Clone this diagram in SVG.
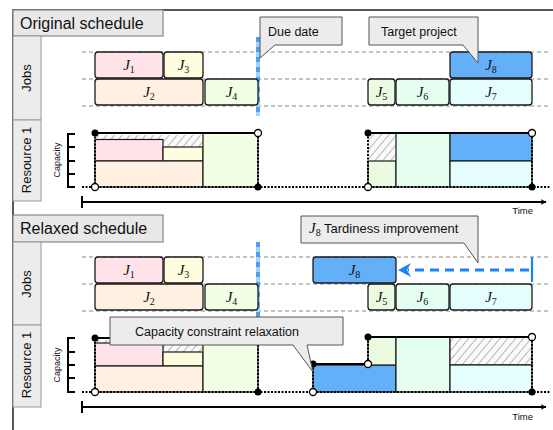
<svg xmlns="http://www.w3.org/2000/svg" width="553" height="430" viewBox="0 0 553 430">
<style>
.frame{fill:none;stroke:#222;stroke-width:1.5}
.hdr{fill:#e8e8e8;stroke:#888;stroke-width:1.2}
.lbl{fill:#ececec;stroke:#999;stroke-width:1}
.sans{font-family:"Liberation Sans",Arial,sans-serif;fill:#111}
.grid{stroke:#888;stroke-width:1;stroke-dasharray:4 3}
.job{stroke:#1a1a1a;stroke-width:1.3}
.blk{stroke:#1a1a1a;stroke-width:1.2}
.jt{font-family:"Liberation Serif","Times New Roman",serif;font-style:italic;font-size:15px;fill:#111;text-anchor:middle}
.sub{font-style:normal;font-size:10px}
.c1{fill:#ffe3e8}.c2{fill:#fff0e2}.c3{fill:#fffde0}.c4{fill:#f2ffe4}
.c5{fill:#ebfbe1}.c6{fill:#e4fff0}.c7{fill:#e4fefe}.c8{fill:#64b0f8}
.callout{fill:#ececec;stroke:#555;stroke-width:1}
.env{stroke:#000;stroke-width:2;fill:none}
.dot{stroke:#000;stroke-width:2;stroke-dasharray:2 1.5;fill:none}
.fd{fill:#000}
.od{fill:#fff;stroke:#000;stroke-width:1.3}
.due1{stroke:#a9d2f7;stroke-width:4}
.due2{stroke:#4f9fef;stroke-width:4;stroke-dasharray:5 5}
.axis{stroke:#000;stroke-width:2;fill:none}
.tick{stroke:#000;stroke-width:2;fill:none}
</style>
<defs>
<pattern id="hatch" width="6" height="6" patternUnits="userSpaceOnUse" patternTransform="rotate(40)">
<rect width="6" height="6" fill="#fafafa"/>
<line x1="0" y1="0" x2="0" y2="6" stroke="#a8a8a8" stroke-width="1.6"/>
</pattern>
<marker id="arr" viewBox="0 0 10 10" refX="9" refY="5" markerWidth="6" markerHeight="6" orient="auto-start-reverse" markerUnits="userSpaceOnUse">
<path d="M0,0 L10,5 L0,10 L3,5 Z" fill="#000"/>
</marker>
</defs>

<g id="frame">
<path class="frame" d="M13,430 V10 H553"/>
</g>

<!-- ========== ORIGINAL ========== -->
<g id="hdr-original">
<rect class="hdr" x="13" y="10" width="150" height="26"/>
<text class="sans" x="20" y="29" font-size="16">Original schedule</text>
</g>
<g id="lbl-jobs-1">
<rect class="lbl" x="13" y="36" width="28" height="84" fill="none"/>
<text class="sans" font-size="13" text-anchor="middle" transform="translate(31,78) rotate(-90)">Jobs</text>
</g>
<g id="lbl-res-1">
<rect class="lbl" x="13" y="120" width="28" height="81"/>
<text class="sans" font-size="13" text-anchor="middle" transform="translate(31,160) rotate(-90)">Resource 1</text>
</g>
<g id="grid-1">
<line class="grid" x1="82" y1="52" x2="550" y2="52"/>
<line class="grid" x1="82" y1="79" x2="550" y2="79"/>
<line class="grid" x1="82" y1="106" x2="550" y2="106"/>
</g>
<g id="due-1">
<line class="due1" x1="258" y1="37" x2="258" y2="116"/>
<line class="due2" x1="258" y1="37" x2="258" y2="116"/>
</g>
<g id="jobs-1">
<g id="o-J1"><rect class="job c1" x="95" y="52" width="68" height="26" rx="3"/><text class="jt" x="129" y="70">J<tspan class="sub" dy="3">1</tspan></text></g>
<g id="o-J3"><rect class="job c3" x="164" y="52" width="39" height="26" rx="3"/><text class="jt" x="183.5" y="70">J<tspan class="sub" dy="3">3</tspan></text></g>
<g id="o-J2"><rect class="job c2" x="95" y="79" width="108" height="26" rx="3"/><text class="jt" x="149" y="97">J<tspan class="sub" dy="3">2</tspan></text></g>
<g id="o-J4"><rect class="job c4" x="205" y="79" width="53" height="26" rx="3"/><text class="jt" x="231.5" y="97">J<tspan class="sub" dy="3">4</tspan></text></g>
<g id="o-J8"><rect class="job c8" x="450" y="52" width="82" height="26" rx="3"/><text class="jt" x="491" y="70">J<tspan class="sub" dy="3">8</tspan></text></g>
<g id="o-J5"><rect class="job c5" x="368" y="79" width="27" height="26" rx="3"/><text class="jt" x="381.5" y="97">J<tspan class="sub" dy="3">5</tspan></text></g>
<g id="o-J6"><rect class="job c6" x="396" y="79" width="53" height="26" rx="3"/><text class="jt" x="422.5" y="97">J<tspan class="sub" dy="3">6</tspan></text></g>
<g id="o-J7"><rect class="job c7" x="450" y="79" width="82" height="26" rx="3"/><text class="jt" x="491" y="97">J<tspan class="sub" dy="3">7</tspan></text></g>
</g>
<g id="callout-due">
<path class="callout" d="M260,17 H342 V45 H275 L260,58 Z"/>
<text class="sans" x="268" y="36" font-size="12.5">Due date</text>
</g>
<g id="callout-target">
<path class="callout" d="M369,17 H478 V63 L463,45 H369 Z"/>
<text class="sans" x="381" y="36" font-size="12.5">Target project</text>
</g>
<g id="res-1">
<text class="sans" font-size="9" text-anchor="middle" transform="translate(60,160) rotate(-90)">Capacity</text>
<path class="tick" d="M75,134 H68 V187 H75 M68,147 H75 M68,161 H75 M68,174 H75"/>
<rect x="95" y="135" width="108" height="12" fill="url(#hatch)"/>
<rect class="blk c1" x="95" y="139.5" width="68" height="21.5"/>
<rect class="blk c3" x="163" y="147" width="40" height="14"/>
<rect class="blk c2" x="95" y="161" width="108" height="26"/>
<rect class="blk c4" x="203" y="133" width="55" height="54"/>
<rect x="368" y="133" width="28" height="28" fill="url(#hatch)"/>
<rect class="blk c5" x="368" y="161" width="28" height="26"/>
<rect class="blk c6" x="396" y="133" width="54" height="54"/>
<rect class="blk c8" x="450" y="133" width="82" height="28"/>
<rect class="blk c7" x="450" y="161" width="82" height="26"/>
<line class="dot" x1="82" y1="187" x2="550" y2="187"/>
<line class="dot" x1="95" y1="133" x2="95" y2="187"/>
<line class="dot" x1="258" y1="133" x2="258" y2="187"/>
<line class="dot" x1="368" y1="133" x2="368" y2="187"/>
<line class="dot" x1="532" y1="133" x2="532" y2="187"/>
<line class="env" x1="95" y1="133" x2="258" y2="133"/>
<line class="env" x1="368" y1="133" x2="532" y2="133"/>
<circle class="fd" cx="95" cy="133" r="3.5"/>
<circle class="od" cx="258" cy="133" r="3.5"/>
<circle class="od" cx="95" cy="187" r="3.5"/>
<circle class="fd" cx="258" cy="187" r="3.5"/>
<circle class="fd" cx="368" cy="133" r="3.5"/>
<circle class="od" cx="532" cy="133" r="3.5"/>
<circle class="od" cx="368" cy="187" r="3.5"/>
<circle class="fd" cx="532" cy="187" r="3.5"/>
</g>
<g id="time-1">
<line class="tick" x1="82" y1="196" x2="82" y2="208"/>
<line class="axis" x1="82" y1="202" x2="546" y2="202" marker-end="url(#arr)"/>
<text class="sans" x="533" y="214" font-size="9.5" text-anchor="end">Time</text>
</g>

<!-- ========== RELAXED ========== -->
<g id="hdr-relaxed">
<rect class="hdr" x="13" y="215" width="150" height="27"/>
<text class="sans" x="20" y="234" font-size="16">Relaxed schedule</text>
</g>
<g id="lbl-jobs-2">
<rect class="lbl" x="13" y="242" width="28" height="83" fill="none"/>
<text class="sans" font-size="13" text-anchor="middle" transform="translate(31,284) rotate(-90)">Jobs</text>
</g>
<g id="lbl-res-2">
<rect class="lbl" x="13" y="325" width="28" height="82"/>
<text class="sans" font-size="13" text-anchor="middle" transform="translate(31,365) rotate(-90)">Resource 1</text>
</g>
<g id="grid-2">
<line class="grid" x1="82" y1="257" x2="550" y2="257"/>
<line class="grid" x1="82" y1="284" x2="550" y2="284"/>
<line class="grid" x1="82" y1="311" x2="550" y2="311"/>
</g>
<g id="due-2">
<line class="due1" x1="258" y1="242" x2="258" y2="318"/>
<line class="due2" x1="258" y1="242" x2="258" y2="318"/>
</g>
<g id="jobs-2">
<g id="r-J1"><rect class="job c1" x="95" y="257" width="68" height="26" rx="3"/><text class="jt" x="129" y="275">J<tspan class="sub" dy="3">1</tspan></text></g>
<g id="r-J3"><rect class="job c3" x="164" y="257" width="39" height="26" rx="3"/><text class="jt" x="183.5" y="275">J<tspan class="sub" dy="3">3</tspan></text></g>
<g id="r-J2"><rect class="job c2" x="95" y="284" width="108" height="26" rx="3"/><text class="jt" x="149" y="302">J<tspan class="sub" dy="3">2</tspan></text></g>
<g id="r-J4"><rect class="job c4" x="205" y="284" width="53" height="26" rx="3"/><text class="jt" x="231.5" y="302">J<tspan class="sub" dy="3">4</tspan></text></g>
<g id="r-J8"><rect class="job c8" x="313" y="257" width="83" height="26" rx="3"/><text class="jt" x="354.5" y="275">J<tspan class="sub" dy="3">8</tspan></text></g>
<g id="r-J5"><rect class="job c5" x="368" y="284" width="27" height="26" rx="3"/><text class="jt" x="381.5" y="302">J<tspan class="sub" dy="3">5</tspan></text></g>
<g id="r-J6"><rect class="job c6" x="396" y="284" width="53" height="26" rx="3"/><text class="jt" x="422.5" y="302">J<tspan class="sub" dy="3">6</tspan></text></g>
<g id="r-J7"><rect class="job c7" x="450" y="284" width="82" height="26" rx="3"/><text class="jt" x="491" y="302">J<tspan class="sub" dy="3">7</tspan></text></g>
</g>
<g id="connectors">
<line x1="532" y1="257" x2="532" y2="282" stroke="#1a84f0" stroke-width="2.2"/>
<line x1="529" y1="270" x2="408" y2="270" stroke="#1a84f0" stroke-width="2.8" stroke-dasharray="9 6"/>
<path d="M398,270 L411,263 L407,270 L411,277 Z" fill="#1a84f0"/>
</g>
<g id="callout-tardiness">
<path class="callout" d="M301,216 H478 V263 L464,243 H301 Z"/>
<text x="309" y="233" font-size="13" class="sans"><tspan font-family="Liberation Serif,serif" font-style="italic" font-size="15">J</tspan><tspan font-family="Liberation Serif,serif" font-size="10" dy="3">8</tspan><tspan dy="-3"> Tardiness improvement</tspan></text>
</g>
<g id="res-2">
<text class="sans" font-size="9" text-anchor="middle" transform="translate(60,365) rotate(-90)">Capacity</text>
<path class="tick" d="M75,338 H68 V392 H75 M68,352 H75 M68,365 H75 M68,378 H75"/>
<rect x="95" y="340" width="108" height="12" fill="url(#hatch)"/>
<rect class="blk c1" x="95" y="343" width="68" height="23"/>
<rect class="blk c3" x="163" y="352" width="40" height="14"/>
<rect class="blk c2" x="95" y="366" width="108" height="26"/>
<rect class="blk c4" x="203" y="338" width="55" height="54"/>
<rect class="blk c8" x="313" y="365" width="83" height="27"/>
<rect class="blk c5" x="368" y="337" width="28" height="28"/>
<rect class="blk c6" x="396" y="337" width="54" height="55"/>
<rect x="450" y="337" width="82" height="28" fill="url(#hatch)" stroke="#1a1a1a" stroke-width="1.2"/>
<rect class="blk c7" x="450" y="365" width="82" height="27"/>
<line class="dot" x1="82" y1="392" x2="550" y2="392"/>
<line class="dot" x1="95" y1="338" x2="95" y2="392"/>
<line class="dot" x1="258" y1="338" x2="258" y2="392"/>
<line class="dot" x1="313" y1="364" x2="313" y2="392"/>
<line class="dot" x1="368" y1="337" x2="368" y2="364"/>
<line class="dot" x1="532" y1="337" x2="532" y2="392"/>
<line class="env" x1="95" y1="338" x2="258" y2="338"/>
<line class="env" x1="313" y1="364" x2="368" y2="364"/>
<line class="env" x1="368" y1="337" x2="532" y2="337"/>
<circle class="fd" cx="95" cy="338" r="3.5"/>
<circle class="od" cx="258" cy="338" r="3.5"/>
<circle class="od" cx="95" cy="392" r="3.5"/>
<circle class="fd" cx="258" cy="392" r="3.5"/>
<circle class="fd" cx="313" cy="364" r="3.5"/>
<circle class="od" cx="368" cy="364" r="3.5"/>
<circle class="fd" cx="368" cy="337" r="3.5"/>
<circle class="od" cx="532" cy="337" r="3.5"/>
<circle class="od" cx="313" cy="392" r="3.5"/>
<circle class="fd" cx="532" cy="392" r="3.5"/>
</g>
<g id="callout-capacity">
<path class="callout" d="M110,317 H343 V345 H307 L313,372 L293,345 H110 Z"/>
<text class="sans" x="135" y="336" font-size="12.5">Capacity constraint relaxation</text>
</g>
<g id="time-2">
<line class="tick" x1="82" y1="401" x2="82" y2="413"/>
<line class="axis" x1="82" y1="407" x2="546" y2="407" marker-end="url(#arr)"/>
<text class="sans" x="533" y="420" font-size="9.5" text-anchor="end">Time</text>
</g>
</svg>
